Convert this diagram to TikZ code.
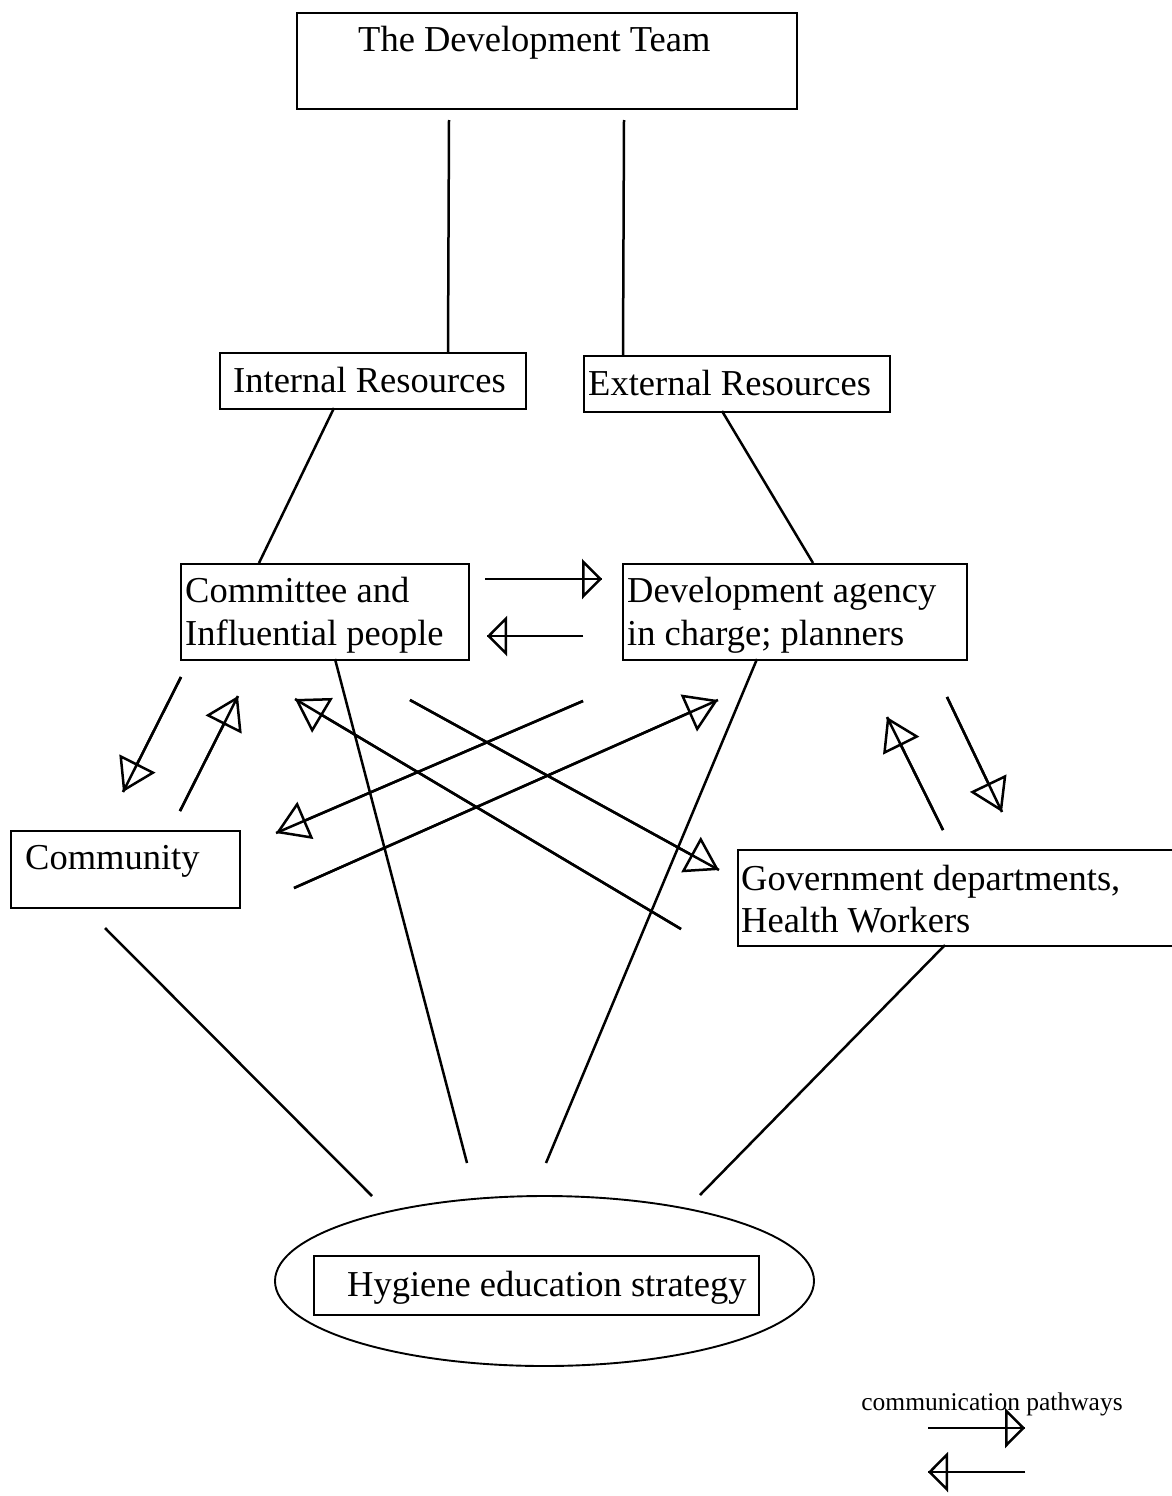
\documentclass[tikz,border=0pt]{standalone}
\usepackage{fontspec}
\setmainfont{Liberation Serif}
\usetikzlibrary{arrows.meta,shapes.geometric}
\tikzset{
  box/.style={draw, line width=1.9pt, inner sep=0pt, anchor=north west},
  lbl/.style={inner sep=0pt, anchor=base west, font=\fontsize{36.5}{44}\selectfont},
  conn/.style={line width=2.5pt},
  harr/.style={conn, postaction={draw, line width=2.5pt, -{Triangle[open,length=20pt,width=40pt]}}},
  darr/.style={conn, postaction={draw, line width=2.5pt, -{Triangle[open,length=32pt,width=40pt]}}},
}
\begin{document}
\begin{tikzpicture}[x=1pt,y=-1pt]
\fill[white] (0,0) rectangle (1172,1496);
\useasboundingbox (0,0) rectangle (1172,1496);

% boxes
\node[box, minimum width=500pt, minimum height=96pt] (team) at (296,12) {};
\node[lbl] (teamtxt) at (358,52) {The Development Team};
\node[box, minimum width=306pt, minimum height=56pt] (internal) at (219,352) {};
\node[lbl] (inttxt) at (233,392) {Internal Resources};
\node[box, minimum width=306pt, minimum height=56pt] (external) at (583,355) {};
\node[lbl] (exttxt) at (588,395) {External Resources};
\node[box, minimum width=288pt, minimum height=96pt] (committee) at (180,563) {};
\node[lbl] (com1) at (185,602) {Committee and};
\node[lbl] (com2) at (185,645) {Influential people};
\node[box, minimum width=344pt, minimum height=96pt] (agency) at (622,563) {};
\node[lbl] (ag1) at (627,602) {Development agency};
\node[lbl] (ag2) at (627,645) {in charge; planners};
\node[box, minimum width=229pt, minimum height=77pt] (community) at (10,830) {};
\node[lbl] (commtxt) at (25,869) {Community};
\node[box, minimum width=450pt, minimum height=96pt] (gov) at (737,849) {};
\node[lbl] (gov1) at (741,890) {Government departments,};
\node[lbl] (gov2) at (741,932) {Health Workers};
\node[draw, ellipse, line width=1.9pt, inner sep=0pt, minimum width=539pt, minimum height=170pt] (strategyell) at (544.5,1281) {};
\node[box, minimum width=445pt, minimum height=59pt] (hygiene) at (313,1255) {};
\node[lbl] (hygtxt) at (347,1296) {Hygiene education strategy};

% endpoints
\coordinate (t1) at (449,120);  \coordinate (t1b) at (448,352);
\coordinate (t2) at (624,120);  \coordinate (t2b) at (623,355);
\coordinate (i1) at (334,408);  \coordinate (i1b) at (259,563);
\coordinate (e1) at (722,411);  \coordinate (e1b) at (813,563);
\coordinate (c1) at (335,659);  \coordinate (c1b) at (467,1163);
\coordinate (a1) at (757,659);  \coordinate (a1b) at (546,1163);
\coordinate (m1) at (105,928);  \coordinate (m1b) at (372,1196);
\coordinate (g1) at (945,945);  \coordinate (g1b) at (700,1195);

\coordinate (ca) at (485,579);  \coordinate (cab) at (602,579);
\coordinate (ac) at (583,636);  \coordinate (acb) at (487,636);
\coordinate (cm) at (181,677);  \coordinate (cmb) at (123,792);
\coordinate (mc) at (180,811);  \coordinate (mcb) at (238,696);
\coordinate (am) at (583,701);  \coordinate (amb) at (276,833);
\coordinate (ma) at (294,888);  \coordinate (mab) at (718,700);
\coordinate (cg) at (410,700);  \coordinate (cgb) at (719,870);
\coordinate (gc) at (681,929);  \coordinate (gcb) at (295,699);
\coordinate (ga) at (943,830);  \coordinate (gab) at (887,717);
\coordinate (ag) at (947,697);  \coordinate (agb) at (1002,812);

% plain connectors
\draw[conn] (t1) -- (t1b);
\draw[conn] (t2) -- (t2b);
\draw[conn] (i1) -- (i1b);
\draw[conn] (e1) -- (e1b);
\draw[conn] (c1) -- (c1b);
\draw[conn] (a1) -- (a1b);
\draw[conn] (m1) -- (m1b);
\draw[conn] (g1) -- (g1b);

% communication pathways
\draw[harr] (ca) -- (cab);
\draw[harr] (ac) -- (acb);
\draw[darr] (cm) -- (cmb);
\draw[darr] (mc) -- (mcb);
\draw[darr] (am) -- (amb);
\draw[darr] (ma) -- (mab);
\draw[darr] (cg) -- (cgb);
\draw[darr] (gc) -- (gcb);
\draw[darr] (ga) -- (gab);
\draw[darr] (ag) -- (agb);

% legend
\node[inner sep=0pt, anchor=base, font=\fontsize{25.5}{30}\selectfont] (legtxt) at (992,1410) {communication pathways};
\coordinate (l1) at (928,1428); \coordinate (l1b) at (1025,1428);
\coordinate (l2) at (1025,1472); \coordinate (l2b) at (928,1472);
\draw[harr] (l1) -- (l1b);
\draw[harr] (l2) -- (l2b);
\end{tikzpicture}
\end{document}
